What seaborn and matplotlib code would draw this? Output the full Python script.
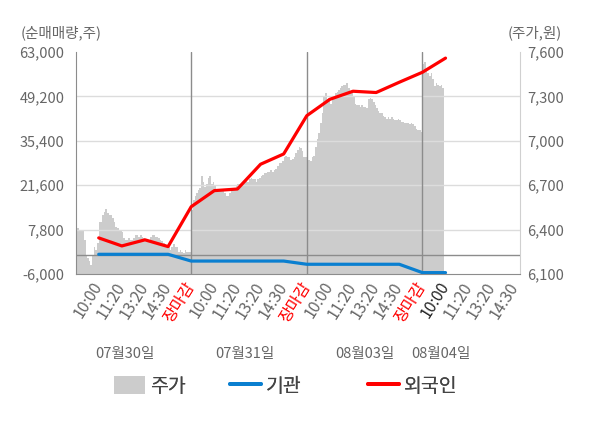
import numpy as np
import pandas as pd
import matplotlib
matplotlib.use("Agg")
import matplotlib.pyplot as plt
import matplotlib.transforms as mtransforms
from matplotlib.patches import Patch
from matplotlib.lines import Line2D
import seaborn as sns

# 주가 (원) - 일자별 분 단위 흐름을 눈으로 읽은 값
price_day1 = [6430, 6410, 6390, 6390, 6390, 6330, 6220, 6210, 6190, 6160,
              6230, 6280, 6260, 6310, 6450, 6450, 6500, 6520, 6540, 6510,
              6500, 6500, 6480, 6450, 6420, 6410, 6400, 6390, 6380, 6340,
              6330, 6330, 6340, 6330, 6330, 6340, 6360, 6360, 6350, 6360,
              6350, 6340, 6330, 6330, 6330, 6350, 6360, 6360, 6350, 6350,
              6340, 6330, 6320, 6310, 6300, 6280, 6280, 6260, 6280, 6300,
              6280, 6280, 6250, 6260, 6250, 6240, 6260, 6250, 6250]
price_day2 = [6530, 6600, 6630, 6650, 6670, 6680, 6760, 6720, 6690, 6710,
              6750, 6760, 6710, 6720, 6700, 6670, 6670, 6660, 6660, 6660,
              6650, 6630, 6630, 6650, 6660, 6670, 6680, 6700, 6710, 6710,
              6710, 6720, 6720, 6740, 6720, 6740, 6750, 6740, 6740, 6720,
              6740, 6750, 6760, 6770, 6780, 6780, 6790, 6790, 6800, 6790,
              6800, 6810, 6830, 6850, 6850, 6860, 6890, 6900, 6890, 6890,
              6870, 6880, 6890, 6920, 6940, 6960, 6950, 6930, 6890]
price_day3 = [6900, 6870, 6860, 6890, 6900, 6960, 7010, 7050, 7120, 7190,
              7300, 7320, 7280, 7290, 7250, 7280, 7300, 7320, 7330, 7340,
              7360, 7370, 7380, 7380, 7390, 7360, 7330, 7320, 7300, 7250,
              7240, 7240, 7230, 7240, 7230, 7230, 7220, 7280, 7290, 7280,
              7260, 7240, 7220, 7200, 7190, 7190, 7170, 7160, 7150, 7160,
              7150, 7160, 7150, 7140, 7140, 7150, 7140, 7130, 7130, 7120,
              7120, 7120, 7110, 7120, 7110, 7100, 7080, 7070, 7070, 7060]
price_day4 = [7520, 7530, 7490, 7460, 7440, 7460, 7420, 7370, 7390, 7380,
              7370, 7380, 7360, 7370]

# 순매매량 (주) - 시간대별 누적
foreign = [5200, 2700, 4600, 2500, 14900, 19900, 20400, 28100, 31300,
           43200, 48300, 50800, 50400, 53600, 56700, 61100]
inst = [100, 100, 100, 100, -2000, -2000, -2000, -2000, -2000,
        -3000, -3000, -3000, -3000, -3000, -5600, -5600]

time_labels = ["10:00", "11:20", "13:20", "14:30", "장마감"] * 3 + \
              ["10:00", "11:20", "13:20", "14:30"]
dates = ["07월30일", "07월31일", "08월03일", "08월04일"]
date_pos = [2.13, 7.33, 12.52, 15.8]

left_ticks = [-6000, 7800, 21600, 35400, 49200, 63000]
right_ticks = [6100, 6400, 6700, 7000, 7300, 7600]

# x 위치: 하루 = 5칸, 분 데이터는 하루 안에서 균등 간격
step = 5 / 70
px, py = [], []
for d, day in enumerate([price_day1, price_day2, price_day3, price_day4]):
    for j, v in enumerate(day):
        px.append(5 * d + j * step)
        py.append(v)
price_df = pd.DataFrame({"x": px, "price": py})

flow_df = pd.DataFrame({"x": np.arange(1, len(foreign) + 1),
                        "외국인": foreign, "기관": inst})

sns.set_style("white")
plt.rcParams["font.family"] = ["Noto Sans CJK KR", "DejaVu Sans"]

fig = plt.figure(figsize=(6, 4.28), dpi=100)
ax = fig.add_axes([0.126, 0.360, 0.741, 0.5185])
ax2 = ax.twinx()
xmax = 19.23

# 주가 영역 (오른쪽 축)
ax2.set_facecolor("#f4f4f4")
ax2.fill_between(price_df["x"], 6100, price_df["price"], color="#cccccc",
                 linewidth=0, step="post")
ax2.set_ylim(6100, 7600)
ax2.set_yticks(right_ticks)
ax2.set_yticklabels([f"{v:,}" for v in right_ticks])

# 순매매량 (왼쪽 축) - 위에 그림
ax.set_zorder(ax2.get_zorder() + 1)
ax.patch.set_visible(False)
ax.set_ylim(-6000, 63000)
ax.set_xlim(0, xmax)
ax.set_yticks(left_ticks)
ax.set_yticklabels([f"{v:,}" for v in left_ticks])
for t in left_ticks[1:-1]:
    ax.axhline(t, color="#dcdcdc", linewidth=1, zorder=1)
ax.axhline(0, color="#8c8c8c", linewidth=1, zorder=2)
for xv in [5, 10, 15]:
    ax.axvline(xv, color="#8c8c8c", linewidth=1, zorder=2)

sns.lineplot(data=flow_df, x="x", y="기관", ax=ax, color="#0a7fd0",
             linewidth=2.3, zorder=4)
sns.lineplot(data=flow_df, x="x", y="외국인", ax=ax, color="#ff0000",
             linewidth=2.3, zorder=5)
ax.set_xlabel("")
ax.set_ylabel("")
ax2.set_ylabel("")

# 축 스타일
for s in ["top", "right"]:
    ax.spines[s].set_visible(False)
ax.spines["left"].set_color("#8c8c8c")
ax.spines["bottom"].set_color("#8c8c8c")
ax2.spines["top"].set_visible(False)
ax2.spines["left"].set_visible(False)
ax2.spines["bottom"].set_visible(False)
ax2.spines["right"].set_color("#d0d0d0")
ax.tick_params(axis="y", length=0, pad=8, labelsize=10.5, labelcolor="#666666")
ax2.tick_params(axis="y", length=0, pad=5, labelsize=10.5, labelcolor="#666666")

ax.xaxis.remove_overlapping_locs = False
ax.set_xticks([0, 5, 10, 15, xmax])
ax.set_xticklabels([])
ax.tick_params(axis="x", which="major", length=5, color="#8c8c8c", direction="out")
ax.set_xticks(np.arange(1, len(time_labels) + 1), minor=True)
ax.set_xticklabels(time_labels, minor=True, rotation=58, ha="right",
                   va="center", rotation_mode="anchor", fontsize=11.5)
ax.tick_params(axis="x", which="minor", length=0, pad=7)
for i, lab in enumerate(ax.get_xticklabels(minor=True)):
    if lab.get_text() == "장마감":
        lab.set_color("#ff0000")
    elif i == 15:
        lab.set_color("#222222")
    else:
        lab.set_color("#666666")

trans = mtransforms.blended_transform_factory(ax.transData, ax.transAxes)
for pos, d in zip(date_pos, dates):
    ax.text(pos, -0.36, d, transform=trans, ha="center", va="center",
            fontsize=10.5, color="#666666")

fig.text(0.035, 0.923, "(순매매량,주)", fontsize=10.5, color="#666666",
         ha="left", va="center")
fig.text(0.937, 0.923, "(주가,원)", fontsize=10.5, color="#666666",
         ha="right", va="center")

# 범례: 항목별 위치를 원본에 맞춰 따로 배치
legend_items = [
    (Patch(facecolor="#cccccc", edgecolor="none"), "주가", 114),
    (Line2D([0], [0], color="#0a7fd0", linewidth=2.8), "기관", 230),
    (Line2D([0], [0], color="#ff0000", linewidth=2.8), "외국인", 368),
]
for h, lab, x0 in legend_items:
    leg = fig.legend([h], [lab], loc="center left",
                     bbox_to_anchor=(x0 / 600, 0.098), frameon=False,
                     fontsize=14, handlelength=1.6, handleheight=1.0,
                     handletextpad=0.25, borderpad=0, borderaxespad=0,
                     labelcolor="#444444")
    fig.add_artist(leg)

fig.savefig("out.png", dpi=100)
